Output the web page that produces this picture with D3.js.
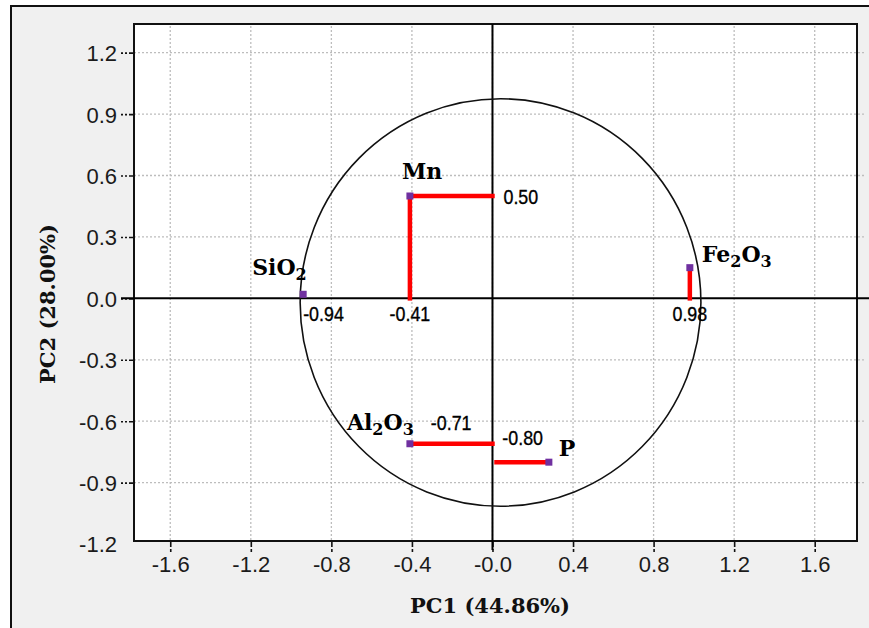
<!DOCTYPE html>
<html>
<head>
<meta charset="utf-8">
<script src="https://cdn.jsdelivr.net/npm/d3@7"></script>
<style>
  html, body { margin: 0; padding: 0; background: #ffffff; }
  svg { display: block; }
</style>
</head>
<body>
<svg id="chart" width="869" height="628"></svg>
<script>
// PCA loading plot: PC1 vs PC2 with correlation circle
const variables = ["SiO2", "Mn", "Fe2O3", "Al2O3", "P"];
const pc1 = [-0.94, -0.41, 0.98, -0.41, 0.28];
const pc2 = [0.02, 0.50, 0.15, -0.71, -0.80];

const xTicks = [-1.6, -1.2, -0.8, -0.4, 0.0, 0.4, 0.8, 1.2, 1.6];
const xTickLabels = ["-1.6", "-1.2", "-0.8", "-0.4", "-0.0", "0.4", "0.8", "1.2", "1.6"];
const yTicks = [-1.2, -0.9, -0.6, -0.3, 0.0, 0.3, 0.6, 0.9, 1.2];
const yTickLabels = ["-1.2", "-0.9", "-0.6", "-0.3", "0.0", "0.3", "0.6", "0.9", "1.2"];

const xTitle = "PC1 (44.86%)";
const yTitle = "PC2 (28.00%)";

// correlation circle (centre and radius in PC units)
const circleCenter = [0.04, -0.02];
const circleRadius = 0.995;

// projection segments drawn from the axes to each loading
const segments = [
  { from: [-0.41, 0], to: [-0.41, 0.50] },
  { from: [-0.41, 0.50], to: [0, 0.50] },
  { from: [0.98, 0], to: [0.98, 0.15] },
  { from: [-0.41, -0.71], to: [0, -0.71] },
  { from: [0.02, -0.80], to: [0.28, -0.80] }
];

// value annotations: position in PC units, pixel offset, anchor
const valueLabels = [
  { text: "0.50",  at: [0, 0.50],       dx: 11, dy: 0,   anchor: "start" },
  { text: "-0.94", at: [-0.94, 0],      dx: 0,  dy: 15,  anchor: "start" },
  { text: "-0.41", at: [-0.41, 0],      dx: 0,  dy: 15,  anchor: "middle" },
  { text: "0.98",  at: [0.98, 0],       dx: 0,  dy: 15,  anchor: "middle" },
  { text: "-0.71", at: [-0.205, -0.71], dx: 0,  dy: -21, anchor: "middle" },
  { text: "-0.80", at: [0.15, -0.80],   dx: 0,  dy: -25, anchor: "middle" }
];

// variable name labels: parts with subscript flags
const nameLabels = [
  { parts: [["Si", false], ["O", false], ["2", true]], at: [-0.94, 0.02], dx: -51, dy: -19 },
  { parts: [["Mn", false]], at: [-0.41, 0.50], dx: -8, dy: -17 },
  { parts: [["Fe", false], ["2", true], ["O", false], ["3", true]], at: [0.98, 0.15], dx: 12, dy: -6 },
  { parts: [["Al", false], ["2", true], ["O", false], ["3", true]], at: [-0.41, -0.71], dx: -63, dy: -14 },
  { parts: [["P", false]], at: [0.28, -0.80], dx: 10, dy: -6 }
];

const svg = d3.select("#chart");
const W = 869, H = 628;
const plot = { left: 134, top: 24, right: 857, bottom: 541 };

const x = d3.scaleLinear().domain([-1.78, 1.81]).range([plot.left, plot.right]);
const y = d3.scaleLinear().domain([-1.185, 1.34]).range([plot.bottom, plot.top]);

// window background and frame
svg.append("rect").attr("x", 0).attr("y", 0).attr("width", W).attr("height", H).attr("fill", "#ffffff");
svg.append("rect").attr("x", 11).attr("y", 6).attr("width", W + 20).attr("height", H + 20)
  .attr("fill", "#f0f0f0").attr("stroke", "#111").attr("stroke-width", 2);

// plot area
svg.append("rect").attr("x", plot.left).attr("y", plot.top)
  .attr("width", plot.right - plot.left).attr("height", plot.bottom - plot.top)
  .attr("fill", "#ffffff");

// dotted grid
const grid = svg.append("g").attr("stroke", "#bdbdbd").attr("stroke-width", 1.3)
  .attr("stroke-dasharray", "2,2");
grid.selectAll("line.v").data(xTicks).join("line").attr("class", "v")
  .attr("x1", d => x(d)).attr("x2", d => x(d))
  .attr("y1", plot.top + 2).attr("y2", plot.bottom);
grid.selectAll("line.h").data(yTicks.filter(d => y(d) < plot.bottom && d !== 0)).join("line").attr("class", "h")
  .attr("x1", plot.left).attr("x2", 866)
  .attr("y1", d => y(d)).attr("y2", d => y(d));

const tickFont = "'Liberation Sans', Arial, sans-serif";

// axes with tick labels
const yAxis = d3.axisLeft(y).tickValues(yTicks).tickSize(13).tickPadding(4)
  .tickFormat((d, i) => yTickLabels[i]);
const gy = svg.append("g").attr("transform", `translate(${plot.left},0)`).call(yAxis);
gy.select(".domain").remove();
gy.selectAll(".tick line").attr("stroke", "#111").attr("stroke-width", 1.6)
  .attr("stroke-dasharray", "5,2,2,2")
  .attr("display", d => y(d) > plot.bottom ? "none" : null);
gy.selectAll(".tick text").attr("fill", "#1b1b1b").attr("dy", "0.36em")
  .style("font-family", tickFont).style("font-size", "22px");

const xAxis = d3.axisBottom(x).tickValues(xTicks).tickSize(11).tickPadding(4)
  .tickFormat((d, i) => xTickLabels[i]);
const gx = svg.append("g").attr("transform", `translate(0,${plot.bottom})`).call(xAxis);
gx.select(".domain").remove();
gx.selectAll(".tick line").attr("stroke", "#111").attr("stroke-width", 1.6)
  .attr("stroke-dasharray", "6,2,3,2");
gx.selectAll(".tick text").attr("fill", "#1b1b1b")
  .style("font-family", tickFont).style("font-size", "22px");

// plot border
svg.append("rect").attr("x", plot.left).attr("y", plot.top)
  .attr("width", plot.right - plot.left).attr("height", plot.bottom - plot.top)
  .attr("fill", "none").attr("stroke", "#111").attr("stroke-width", 2);

// zero lines
svg.append("line").attr("x1", plot.left - 13).attr("x2", W)
  .attr("y1", y(0)).attr("y2", y(0)).attr("stroke", "#000").attr("stroke-width", 2);
svg.append("line").attr("x1", x(0)).attr("x2", x(0))
  .attr("y1", plot.top).attr("y2", plot.bottom + 9).attr("stroke", "#000").attr("stroke-width", 2);

// correlation circle
svg.append("ellipse")
  .attr("cx", x(circleCenter[0])).attr("cy", y(circleCenter[1]))
  .attr("rx", x(circleRadius) - x(0)).attr("ry", y(0) - y(circleRadius))
  .attr("fill", "none").attr("stroke", "#111").attr("stroke-width", 1.6);

// projection segments
svg.append("g").selectAll("line").data(segments).join("line")
  .attr("x1", d => x(d.from[0])).attr("y1", d => y(d.from[1]))
  .attr("x2", d => x(d.to[0])).attr("y2", d => y(d.to[1]))
  .attr("stroke", "#ff0000").attr("stroke-width", 4.5).attr("stroke-linecap", "square");

// loading points
svg.append("g").selectAll("rect").data(variables).join("rect")
  .attr("x", (d, i) => x(pc1[i]) - 3.5).attr("y", (d, i) => y(pc2[i]) - 3.5)
  .attr("width", 7).attr("height", 7).attr("fill", "#7030a0");

// value annotations (condensed sans)
svg.append("g").selectAll("text").data(valueLabels).join("text")
  .attr("transform", d => `translate(${x(d.at[0]) + d.dx},${y(d.at[1]) + d.dy}) scale(0.85,1)`)
  .attr("text-anchor", d => d.anchor).attr("dominant-baseline", "central")
  .attr("fill", "#000").attr("stroke", "#000").attr("stroke-width", 0.35)
  .style("font-family", tickFont).style("font-size", "21px")
  .text(d => d.text);

// variable names with subscripts
const names = svg.append("g");
nameLabels.forEach(lbl => {
  const t = names.append("text")
    .attr("x", x(lbl.at[0]) + lbl.dx).attr("y", y(lbl.at[1]) + lbl.dy)
    .attr("fill", "#000")
    .style("font-family", "'DejaVu Serif', serif").style("font-weight", "bold").style("font-size", "22px");
  let lowered = false;
  lbl.parts.forEach(([s, sub]) => {
    const ts = t.append("tspan").text(s);
    if (sub) {
      ts.style("font-size", "16px").attr("dy", lowered ? 0 : 5);
      lowered = true;
    } else {
      ts.attr("dy", lowered ? -5 : 0);
      lowered = false;
    }
  });
});

// axis titles
svg.append("text").attr("x", 490).attr("y", 613).attr("text-anchor", "middle")
  .attr("fill", "#111")
  .style("font-family", "'DejaVu Serif', serif").style("font-weight", "bold").style("font-size", "21px")
  .text(xTitle);
svg.append("text").attr("transform", "translate(55,304) rotate(-90)").attr("text-anchor", "middle")
  .attr("fill", "#111")
  .style("font-family", "'DejaVu Serif', serif").style("font-weight", "bold").style("font-size", "21px")
  .text(yTitle);
</script>
</body>
</html>
